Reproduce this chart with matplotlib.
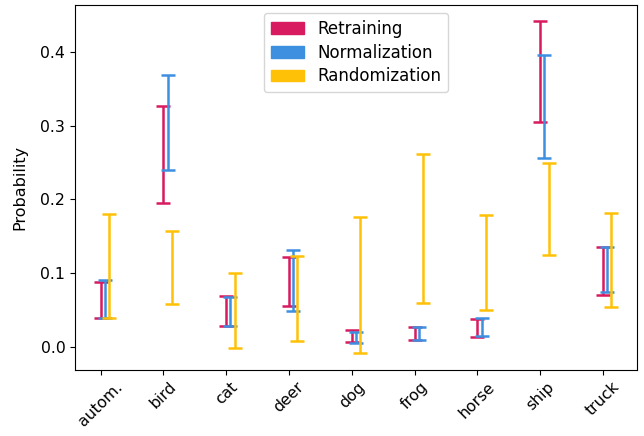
import numpy as np
import matplotlib
matplotlib.use('Agg')
import matplotlib.pyplot as plt
import matplotlib.patches as mpatches

classes = ['autom.', 'bird', 'cat', 'deer', 'dog', 'frog', 'horse', 'ship', 'truck']

# low / high probability bounds per class
retrain_lo = [0.039, 0.1955, 0.029, 0.0554, 0.0068, 0.010, 0.0135, 0.305, 0.0712]
retrain_hi = [0.089, 0.327, 0.070, 0.1216, 0.023, 0.027, 0.038, 0.441, 0.1357]
norm_lo = [0.039, 0.240, 0.029, 0.0496, 0.006, 0.0097, 0.0158, 0.2555, 0.0753]
norm_hi = [0.0905, 0.369, 0.0676, 0.132, 0.0212, 0.027, 0.0397, 0.396, 0.1357]
rand_lo = [0.039, 0.058, -0.001, 0.008, -0.0076, 0.060, 0.050, 0.125, 0.055]
rand_hi = [0.180, 0.157, 0.101, 0.124, 0.176, 0.261, 0.179, 0.2496, 0.182]

series = [
    ('Retraining', retrain_lo, retrain_hi, '#D81B60'),
    ('Normalization', norm_lo, norm_hi, '#3D8FE0'),
    ('Randomization', rand_lo, rand_hi, '#FFC107'),
]

fig = plt.figure(figsize=(6.44, 4.36), dpi=100)
ax = fig.add_axes([0.1165, 0.1525, 0.8725, 0.8365])

x = np.arange(len(classes))
handles = []
for i, (name, lo, hi, col) in enumerate(series):
    lo = np.array(lo)
    hi = np.array(hi)
    mid = (lo + hi) / 2
    err = (hi - lo) / 2
    ax.errorbar(x + i * 0.067, mid, yerr=err, fmt='none', ecolor=col,
                elinewidth=1.8, capsize=5, capthick=1.8)
    handles.append(mpatches.Patch(color=col, label=name))

ax.set_xticks(x)
ax.set_xticklabels(classes, rotation=45)
ax.tick_params(labelsize=11.3)
ax.set_ylabel('Probability', fontsize=11.5, labelpad=9)
ax.legend(handles=handles, loc='upper center', fontsize=12, labelspacing=0.35)

fig.savefig('out.png', dpi=100)
